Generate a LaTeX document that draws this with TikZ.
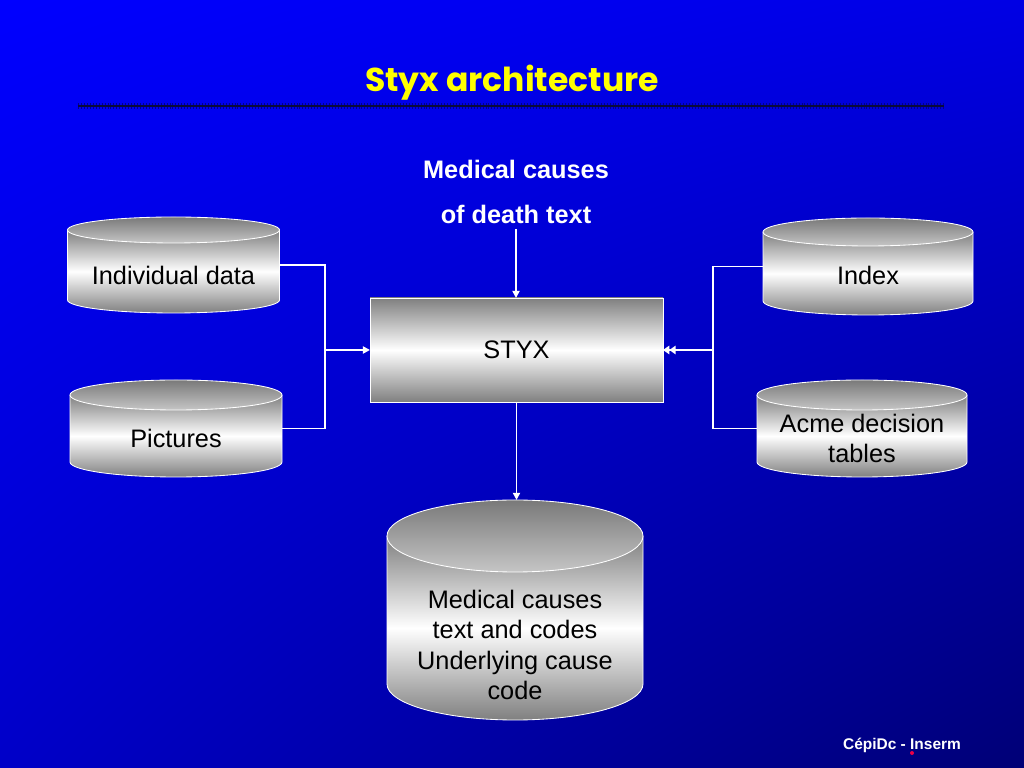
\documentclass[tikz,border=0pt]{standalone}
\usepackage{fontspec}
\setmainfont{Liberation Sans}
\newfontfamily\titlefont{Poppins}
\usepackage{tikz}
\usetikzlibrary{
  calc,
  shadings,
  arrows.meta
}

\definecolor{bgul}{RGB}{0,0,255}
\definecolor{bgur}{RGB}{0,0,228}
\definecolor{bgll}{RGB}{0,0,200}
\definecolor{bglr}{RGB}{0,0,118}
\definecolor{ruleblue}{RGB}{10,10,60}
\definecolor{tickblue}{RGB}{0,0,140}
\definecolor{titleyellow}{RGB}{255,255,0}
\definecolor{dotred}{RGB}{235,0,70}

\tikzset{
  drumside/.style={top color=gray, bottom color=gray, middle color=white},
  drumtop/.style={top color=gray!95!black, bottom color=gray!45},
  drumline/.style={draw=white, line width=0.6pt},
  drumbox/.style={rectangle, inner sep=0pt, outer sep=0pt},
  labeltext/.style={align=center, font=\fontsize{18}{21.5}\selectfont},
  wire/.style={draw=white, line width=1.2pt},
  tip/.style={-{Triangle[length=5pt,width=5pt]}},
  twotip/.style={-{Triangle[length=4.5pt,width=6pt]Triangle[length=4.5pt,width=6pt]}}
}

% name, cx, cy, rx, half height, ry, text drop, text
\newcommand\drum[8]{%
  \shade[drumside] (#2-#4,#3+#5-#6) rectangle (#2+#4,#3-#5+#6)
    (#2,#3-#5+#6) ellipse [x radius=#4, y radius=#6];
  \draw[drumline] (#2-#4,#3+#5-#6) -- (#2-#4,#3-#5+#6)
    arc [start angle=180, end angle=360, x radius=#4, y radius=#6]
    -- (#2+#4,#3+#5-#6);
  \shade[drumtop] (#2,#3+#5-#6) ellipse [x radius=#4, y radius=#6];
  \draw[drumline] (#2,#3+#5-#6) ellipse [x radius=#4, y radius=#6];
  \node[drumbox, minimum width=#4*0.05cm, minimum height=#5*0.05cm] (#1) at (#2,#3) {};
  \node[labeltext] (#1-txt) at (#2,#3-#7) {#8};
}

\begin{document}
\begin{tikzpicture}[x=0.025cm, y=0.025cm]
\useasboundingbox (0,0) rectangle (1024,768);
\shade[upper left=bgul, upper right=bgur, lower left=bgll, lower right=bglr]
  (0,0) rectangle (1024,768);

% title
\node[font=\titlefont\bfseries\fontsize{23.5}{26}\selectfont, text=titleyellow] (ttl) at (512,685) {Styx architecture};
\draw[tickblue, line width=4pt, dash pattern=on 0.6pt off 1.5pt] (78,662) -- (944,662);
\draw[ruleblue, line width=1.3pt] (78,662) -- (944,662);

% stores
\drum{ind}{173.5}{503}{106}{48}{13}{10}{Individual data}
\drum{pic}{176}{339.5}{106}{48.5}{15}{10}{Pictures}
\drum{idx}{868}{501.5}{105}{48.5}{14}{9}{Index}
\drum{acme}{862}{339.5}{105}{48.5}{15}{10}{Acme decision\\tables}
\drum{out}{515}{158}{128}{110}{36}{35}{Medical causes\\text and codes\\Underlying cause\\code}

% engine
\shade[top color=gray, bottom color=gray, middle color=white, draw=white, line width=0.6pt]
  (370,366) rectangle (663,470);
\node[drumbox, minimum width=293*0.025cm, minimum height=104*0.025cm, font=\fontsize{18}{21.5}\selectfont] (styx) at (516.5,418) {STYX};

\node[align=center, text=white, font=\bfseries\fontsize{18}{32}\selectfont] (cause) at (516,576) {Medical causes\\of death text};

% connectors
\coordinate (lj) at (325,418);
\coordinate (rj) at (713,418);
\draw[wire] (ind.east) -| (lj) |- (pic.east);
\draw[wire, tip] (lj) -- (styx.west);
\draw[wire] (idx.west) -| (rj) |- (acme.west);
\draw[wire, twotip] (rj) -- (styx.east);
\draw[wire, tip] (cause.south) -- (cause.south |- styx.north);
\draw[wire, tip] (styx.south) -- (styx.south |- out.north);

% footer
\node[text=white, font=\bfseries\fontsize{11}{13}\selectfont] (cred) at (902,23) {CépiDc - Inserm};
\fill[dotred] (912,15) circle (2);

\end{tikzpicture}
\end{document}
